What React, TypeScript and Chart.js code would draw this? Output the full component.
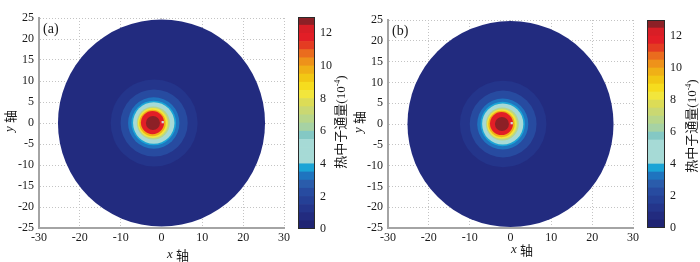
import React, { useEffect, useRef } from "react";
import { Chart, registerables } from "chart.js";
Chart.register(...registerables);

const SERIF = "'Liberation Serif', 'DejaVu Serif', serif";
const CJK = "'Noto Sans CJK SC', sans-serif";

// axis ticks
const xTicks = [-30, -20, -10, 0, 10, 20, 30];
const yTicks = [-25, -20, -15, -10, -5, 0, 5, 10, 15, 20, 25];
const cbTicks = [0, 2, 4, 6, 8, 10, 12];

// contour levels (colorbar bands)
const levelLow = [0, 0.5, 1, 1.5, 2, 2.5, 3, 3.5, 4, 4.5, 5, 5.5, 6, 6.5, 7, 7.5, 8, 8.5, 9, 9.5, 10, 10.5, 11, 11.5, 12, 12.5];
const levelHigh = [0.5, 1, 1.5, 2, 2.5, 3, 3.5, 4, 4.5, 5, 5.5, 6, 6.5, 7, 7.5, 8, 8.5, 9, 9.5, 10, 10.5, 11, 11.5, 12, 12.5, 13];
const levelColors = [
  "#1f2473", "#222b7f", "#24358b", "#254096", "#274ba0", "#2a5cab",
  "#1f74bf", "#1ba4d6", "#a6dad6", "#a6dad6", "#a6dad6", "#84c8c4",
  "#a6d2a4", "#b8d68a", "#cad872", "#dcdc56", "#f2e63c", "#f6dc1e",
  "#f2c814", "#f0b016", "#ee921a", "#ea6c1e", "#e43c22", "#e21e26",
  "#d81e26", "#8c2026",
];

// flux field rings (iso-contours), panel (a) and (b)
const ringRadius = [25, 10.5, 8.1, 6.2, 5.4, 5.0, 4.0, 3.6, 3.2, 2.8, 1.7];
const ringCenterX = [0, -1.8, -1.8, -1.9, -1.9, -1.9, -2.0, -2.1, -2.2, -2.2, -2.1];
const ringCenterY = [0, 0, 0, 0, 0, 0, 0, 0, 0, 0.1, 0];
const ringValue = [0.7, 1.2, 2.2, 3.2, 3.7, 4.7, 6.7, 8.2, 9.7, 11.7, 12.7];

const probeX = [0.3];
const probeY = [0.2];

const cbTitleMain = "热中子通量(10";
const cbTitleSup = "-4";
const cbTitleEnd = ")";

function colorFor(v: number) {
  for (let i = 0; i < levelLow.length; i++) {
    if (v >= levelLow[i] && v < levelHigh[i]) return levelColors[i];
  }
  return levelColors[levelColors.length - 1];
}

function drawAxisTitle(ctx: CanvasRenderingContext2D, v: string, cx: number, cy: number, rot: number) {
  ctx.save();
  ctx.translate(cx, cy);
  ctx.rotate(rot);
  const f1 = `italic 13px ${SERIF}`;
  const f2 = `13px ${CJK}`;
  ctx.font = f1;
  const w1 = ctx.measureText(v + " ").width;
  ctx.font = f2;
  const w2 = ctx.measureText("轴").width;
  const x = -(w1 + w2) / 2;
  ctx.textAlign = "left";
  ctx.textBaseline = "middle";
  ctx.fillStyle = "#1a1a1a";
  ctx.font = f1;
  ctx.fillText(v, x, 0);
  ctx.font = f2;
  ctx.fillText("轴", x + w1, 0);
  ctx.restore();
}

function makeMain(canvas: HTMLCanvasElement, label: string, top: number, xtX: number, xtY: number) {
  const ringSets = ringRadius.map((r, i) => ({
    data: [{ x: ringCenterX[i], y: ringCenterY[i] }],
    backgroundColor: colorFor(ringValue[i]),
    borderWidth: 0,
    pointBorderWidth: 0,
    pointStyle: "circle",
    order: ringRadius.length - i + 1,
    clip: false as any,
    pointRadius: (c: any) => {
      const xs = c.chart.scales.x;
      const ys = c.chart.scales.y;
      if (!xs || !ys) return 0;
      const rx = Math.abs(xs.getPixelForValue(r) - xs.getPixelForValue(0));
      const ry = Math.abs(ys.getPixelForValue(r) - ys.getPixelForValue(0));
      return (rx + ry) / 2;
    },
  }));
  const probeSet = {
    data: probeX.map((x, i) => ({ x, y: probeY[i] })),
    backgroundColor: "#d8d8d8",
    borderWidth: 0,
    pointBorderWidth: 0,
    pointStyle: "rect",
    pointRadius: 1.6,
    order: 0,
    clip: false as any,
  };
  const textPlugin = {
    id: "mainText",
    afterDraw(chart: any) {
      const ctx = chart.ctx as CanvasRenderingContext2D;
      const ca = chart.chartArea;
      ctx.save();
      ctx.fillStyle = "#1a1a1a";
      ctx.textBaseline = "middle";
      ctx.textAlign = "left";
      ctx.font = `14px ${SERIF}`;
      ctx.fillText(label, ca.left + 4, ca.top + 11);
      ctx.restore();
      drawAxisTitle(ctx, "x", xtX, xtY, 0);
      drawAxisTitle(ctx, "y", 10, (ca.top + ca.bottom) / 2 - 2, -Math.PI / 2);
    },
  };
  const tickFont = { family: SERIF, size: 12 };
  return new Chart(canvas, {
    type: "scatter",
    data: { datasets: [probeSet, ...ringSets] as any },
    options: {
      responsive: false,
      animation: false,
      devicePixelRatio: 1,
      events: [],
      layout: { padding: { left: 0, right: 16, top, bottom: 0 } },
      plugins: { legend: { display: false }, tooltip: { enabled: false } },
      scales: {
        x: {
          type: "linear",
          min: -30,
          max: 30,
          afterBuildTicks: (s: any) => {
            s.ticks = xTicks.map((v) => ({ value: v }));
          },
          ticks: { font: tickFont, color: "#1a1a1a", padding: 3, maxRotation: 0, autoSkip: false },
          grid: { color: "#c4c4c4", lineWidth: 1, drawTicks: false },
          border: { display: true, color: "#a4a4a4", width: 2, dash: [1, 2] },
          afterFit: (s: any) => {
            s.height = 34;
          },
        },
        y: {
          type: "linear",
          min: -25,
          max: 25,
          afterBuildTicks: (s: any) => {
            s.ticks = yTicks.map((v) => ({ value: v }));
          },
          ticks: { font: tickFont, color: "#1a1a1a", padding: 5, autoSkip: false },
          grid: { color: "#c4c4c4", lineWidth: 1, drawTicks: false },
          border: { display: true, color: "#a4a4a4", width: 2, dash: [1, 2] },
          afterFit: (s: any) => {
            s.width = 39;
          },
        },
      },
    } as any,
    plugins: [textPlugin],
  });
}

function makeBar(
  canvas: HTMLCanvasElement,
  top: number,
  bottom: number,
  left: number,
  barW: number,
  tX: number,
  tY: number
) {
  const W = canvas.width;
  const datasets = levelColors.map((c, i) => ({
    data: [[levelLow[i], levelHigh[i]]],
    backgroundColor: c,
    borderWidth: 0,
    barPercentage: 1,
    categoryPercentage: 1,
    grouped: false,
  }));
  const plugin = {
    id: "cbDecor",
    afterDraw(chart: any) {
      const ctx = chart.ctx as CanvasRenderingContext2D;
      const ca = chart.chartArea;
      ctx.save();
      ctx.strokeStyle = "#2a2a2a";
      ctx.lineWidth = 1;
      ctx.strokeRect(Math.round(ca.left) + 0.5, Math.round(ca.top) + 0.5, Math.round(ca.right - ca.left) - 1, Math.round(ca.bottom - ca.top) - 1);
      // title, rotated -90
      ctx.translate(tX, tY);
      ctx.rotate(-Math.PI / 2);
      ctx.fillStyle = "#1a1a1a";
      ctx.textBaseline = "middle";
      ctx.textAlign = "left";
      const fMain = `13px ${SERIF}, ${CJK}`;
      const fSup = `8px ${SERIF}`;
      ctx.font = fMain;
      const w1 = ctx.measureText(cbTitleMain).width;
      const w3 = ctx.measureText(cbTitleEnd).width;
      ctx.font = fSup;
      const w2 = ctx.measureText(cbTitleSup).width;
      let x = -(w1 + w2 + w3) / 2;
      ctx.font = fMain;
      ctx.fillText(cbTitleMain, x, 0);
      x += w1;
      ctx.font = fSup;
      ctx.fillText(cbTitleSup, x, -4);
      x += w2;
      ctx.font = fMain;
      ctx.fillText(cbTitleEnd, x, 0);
      ctx.restore();
    },
  };
  return new Chart(canvas, {
    type: "bar",
    data: { labels: [""], datasets: datasets as any },
    options: {
      responsive: false,
      animation: false,
      devicePixelRatio: 1,
      events: [],
      layout: { padding: { left, right: 0, top, bottom } },
      plugins: { legend: { display: false }, tooltip: { enabled: false } },
      scales: {
        x: { display: false },
        y: {
          position: "right",
          min: 0,
          max: 13,
          afterBuildTicks: (s: any) => {
            s.ticks = cbTicks.map((v) => ({ value: v }));
          },
          ticks: { font: { family: SERIF, size: 12 }, color: "#1a1a1a", padding: 5, autoSkip: false },
          grid: { display: false, drawTicks: false },
          border: { display: false },
          afterFit: (s: any) => {
            s.width = W - left - barW;
          },
        },
      },
    } as any,
    plugins: [plugin],
  });
}

export default function App() {
  const mainA = useRef<HTMLCanvasElement>(null);
  const barA = useRef<HTMLCanvasElement>(null);
  const mainB = useRef<HTMLCanvasElement>(null);
  const barB = useRef<HTMLCanvasElement>(null);

  useEffect(() => {
    const charts = [
      makeMain(mainA.current!, "(a)", 18, 178, 255),
      makeBar(barA.current!, 17, 33, 2, 17, 46, 122),
      makeMain(mainB.current!, "(b)", 20, 173, 250),
      makeBar(barB.current!, 20, 34, 2, 18, 48, 126),
    ];
    return () => charts.forEach((c) => c.destroy());
  }, []);

  const abs = (left: number, w: number): React.CSSProperties => ({
    position: "absolute",
    left,
    top: 0,
    width: w,
    height: 262,
  });

  return (
    <div style={{ position: "fixed", left: 0, top: 0, width: 700, height: 262, background: "#fff", overflow: "hidden" }}>
      <canvas ref={mainA} width={300} height={262} style={abs(0, 300)} />
      <canvas ref={barA} width={60} height={262} style={abs(296, 60)} />
      <canvas ref={mainB} width={300} height={262} style={abs(349, 300)} />
      <canvas ref={barB} width={55} height={262} style={abs(645, 55)} />
    </div>
  );
}
